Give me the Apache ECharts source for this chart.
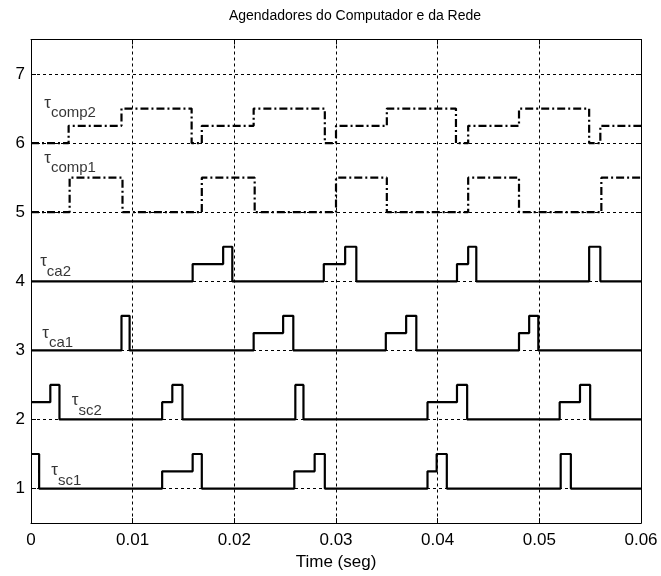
<!DOCTYPE html>
<html>
<head>
<meta charset="utf-8">
<script src="https://cdn.jsdelivr.net/npm/echarts@6/dist/echarts.min.js"></script>
<style>
html,body{margin:0;padding:0;background:#fff;}
#chart{width:661px;height:576px;}
</style>
</head>
<body>
<div id="chart"></div>
<script>
// ---- data (step change points: time, level) ----
const sc1Times   = [0, 0.0008, 0.0129, 0.0159, 0.0168, 0.0259, 0.0279, 0.0289, 0.0390, 0.0399, 0.0409, 0.0521, 0.0531, 0.06];
const sc1Levels  = [1.5, 1, 1.25, 1.5, 1, 1.25, 1.5, 1, 1.25, 1.5, 1, 1.5, 1, 1];

const sc2Times   = [0, 0.0019, 0.0028, 0.0129, 0.0139, 0.0149, 0.0260, 0.0268, 0.0390, 0.0419, 0.0429, 0.0520, 0.0540, 0.0550, 0.06];
const sc2Levels  = [2.25, 2.5, 2, 2.25, 2.5, 2, 2.5, 2, 2.25, 2.5, 2, 2.25, 2.5, 2, 2];

const ca1Times   = [0, 0.0089, 0.0097, 0.0219, 0.0248, 0.0258, 0.0349, 0.0369, 0.0379, 0.0480, 0.0490, 0.0499, 0.06];
const ca1Levels  = [3, 3.5, 3, 3.25, 3.5, 3, 3.25, 3.5, 3, 3.25, 3.5, 3, 3];

const ca2Times   = [0, 0.0159, 0.0189, 0.0198, 0.0288, 0.0309, 0.0320, 0.0419, 0.0430, 0.0438, 0.0549, 0.0560, 0.06];
const ca2Levels  = [4, 4.25, 4.5, 4, 4.25, 4.5, 4, 4.25, 4.5, 4, 4.5, 4, 4];

const comp1Times  = [0, 0.0038, 0.0090, 0.0168, 0.0220, 0.0300, 0.0350, 0.0430, 0.0480, 0.0561, 0.06];
const comp1Levels = [5, 5.5, 5, 5.5, 5, 5.5, 5, 5.5, 5, 5.5, 5.5];

const comp2Times  = [0, 0.0037, 0.0089, 0.0158, 0.0168, 0.0219, 0.0289, 0.0300, 0.0350, 0.0418, 0.0430, 0.0480, 0.0549, 0.0560, 0.06];
const comp2Levels = [6, 6.25, 6.5, 6, 6.25, 6.5, 6, 6.25, 6.5, 6, 6.25, 6.5, 6, 6.25, 6.25];

// y tick values
const yTicks = [1, 2, 3, 4, 5, 6, 7];

// trace labels: subscript text and anchor (time, level)
const labelSubs  = ['comp2', 'comp1', 'ca2', 'ca1', 'sc2', 'sc1'];
const labelTimes = [0.0013, 0.0013, 0.0009, 0.0011, 0.0040, 0.0020];
const labelYs    = [6.51, 5.71, 4.21, 3.18, 2.20, 1.19];

const titleText = 'Agendadores do Computador e da Rede';
const xName = 'Time (seg)';

// ---- build ----
const zip = (t, v) => t.map((x, i) => [x, v[i]]);
const FONT = '"Liberation Sans", Arial, sans-serif';

const solid = { color: '#000', width: 2.2, type: 'solid' };
const dashDot = { color: '#000', width: 2.2, type: [8, 3, 2, 3] };

function stepSeries(name, t, v, style) {
  return {
    name: name, type: 'line', step: 'end', data: zip(t, v),
    symbol: 'none', lineStyle: style, silent: true, animation: false, z: 5
  };
}

const labelData = labelSubs.map((s, i) => ({ value: [labelTimes[i], labelYs[i]], sub: s }));

const chart = echarts.init(document.getElementById('chart'), null, { renderer: 'canvas' });
chart.setOption({
  animation: false,
  backgroundColor: '#fff',
  title: {
    text: titleText, left: 350, top: 4, textAlign: 'center',
    textStyle: { fontFamily: FONT, fontSize: 14, fontWeight: 'normal', color: '#000' }
  },
  grid: { left: 31, right: 20, top: 39.5, bottom: 52, show: false },
  xAxis: [{
    type: 'value', min: 0, max: 0.06, interval: 0.01, position: 'bottom',
    name: xName, nameLocation: 'middle', nameGap: 23,
    nameTextStyle: { fontFamily: FONT, fontSize: 17, color: '#000' },
    axisLine: { show: true, onZero: false, lineStyle: { color: '#000', width: 1 } },
    axisTick: { show: true, inside: true, length: 5, lineStyle: { color: '#000' } },
    axisLabel: { fontFamily: FONT, fontSize: 17, color: '#000', margin: 9,
      formatter: v => (v === 0 ? '0' : String(+v.toFixed(2))) },
    splitLine: { show: true, lineStyle: { color: '#000', width: 1, type: [3, 3] } }
  }, {
    type: 'value', min: 0, max: 0.06, interval: 0.01, position: 'top',
    axisLine: { show: true, onZero: false, lineStyle: { color: '#000', width: 1 } },
    axisTick: { show: true, inside: true, length: 5, lineStyle: { color: '#000' } },
    axisLabel: { show: false }, splitLine: { show: false }
  }],
  yAxis: [{
    type: 'value', min: 0.5, max: 7.5, position: 'left',
    axisLine: { show: true, onZero: false, lineStyle: { color: '#000', width: 1 } },
    axisTick: { show: true, inside: true, length: 5, lineStyle: { color: '#000' }, customValues: yTicks },
    axisLabel: { fontFamily: FONT, fontSize: 17, color: '#000', margin: 6, customValues: yTicks,
      formatter: v => String(Math.round(v)) },
    splitLine: { show: false }
  }, {
    type: 'value', min: 0.5, max: 7.5, position: 'right',
    axisLine: { show: true, onZero: false, lineStyle: { color: '#000', width: 1 } },
    axisTick: { show: true, inside: true, length: 5, lineStyle: { color: '#000' }, customValues: yTicks },
    axisLabel: { show: false }, splitLine: { show: false }
  }],
  series: [
    {
      type: 'line', data: [], silent: true, z: 1,
      markLine: {
        symbol: 'none', silent: true, label: { show: false },
        lineStyle: { color: '#000', width: 1, type: [3, 3] },
        data: yTicks.map(y => ({ yAxis: y }))
      }
    },
    stepSeries('sc1', sc1Times, sc1Levels, solid),
    stepSeries('sc2', sc2Times, sc2Levels, solid),
    stepSeries('ca1', ca1Times, ca1Levels, solid),
    stepSeries('ca2', ca2Times, ca2Levels, solid),
    stepSeries('comp1', comp1Times, comp1Levels, dashDot),
    stepSeries('comp2', comp2Times, comp2Levels, dashDot),
    {
      type: 'scatter', data: labelData, symbolSize: 0, silent: true, z: 10,
      label: {
        show: true, position: 'right', distance: 0,
        formatter: p => '{t|τ}{s|' + p.data.sub + '}',
        rich: {
          t: { fontFamily: FONT, fontSize: 17, color: '#000', padding: [0, 0, 10, 0] },
          s: { fontFamily: FONT, fontSize: 15, color: '#000', padding: [10, 0, 0, 0] }
        }
      }
    }
  ]
});
</script>
</body>
</html>
